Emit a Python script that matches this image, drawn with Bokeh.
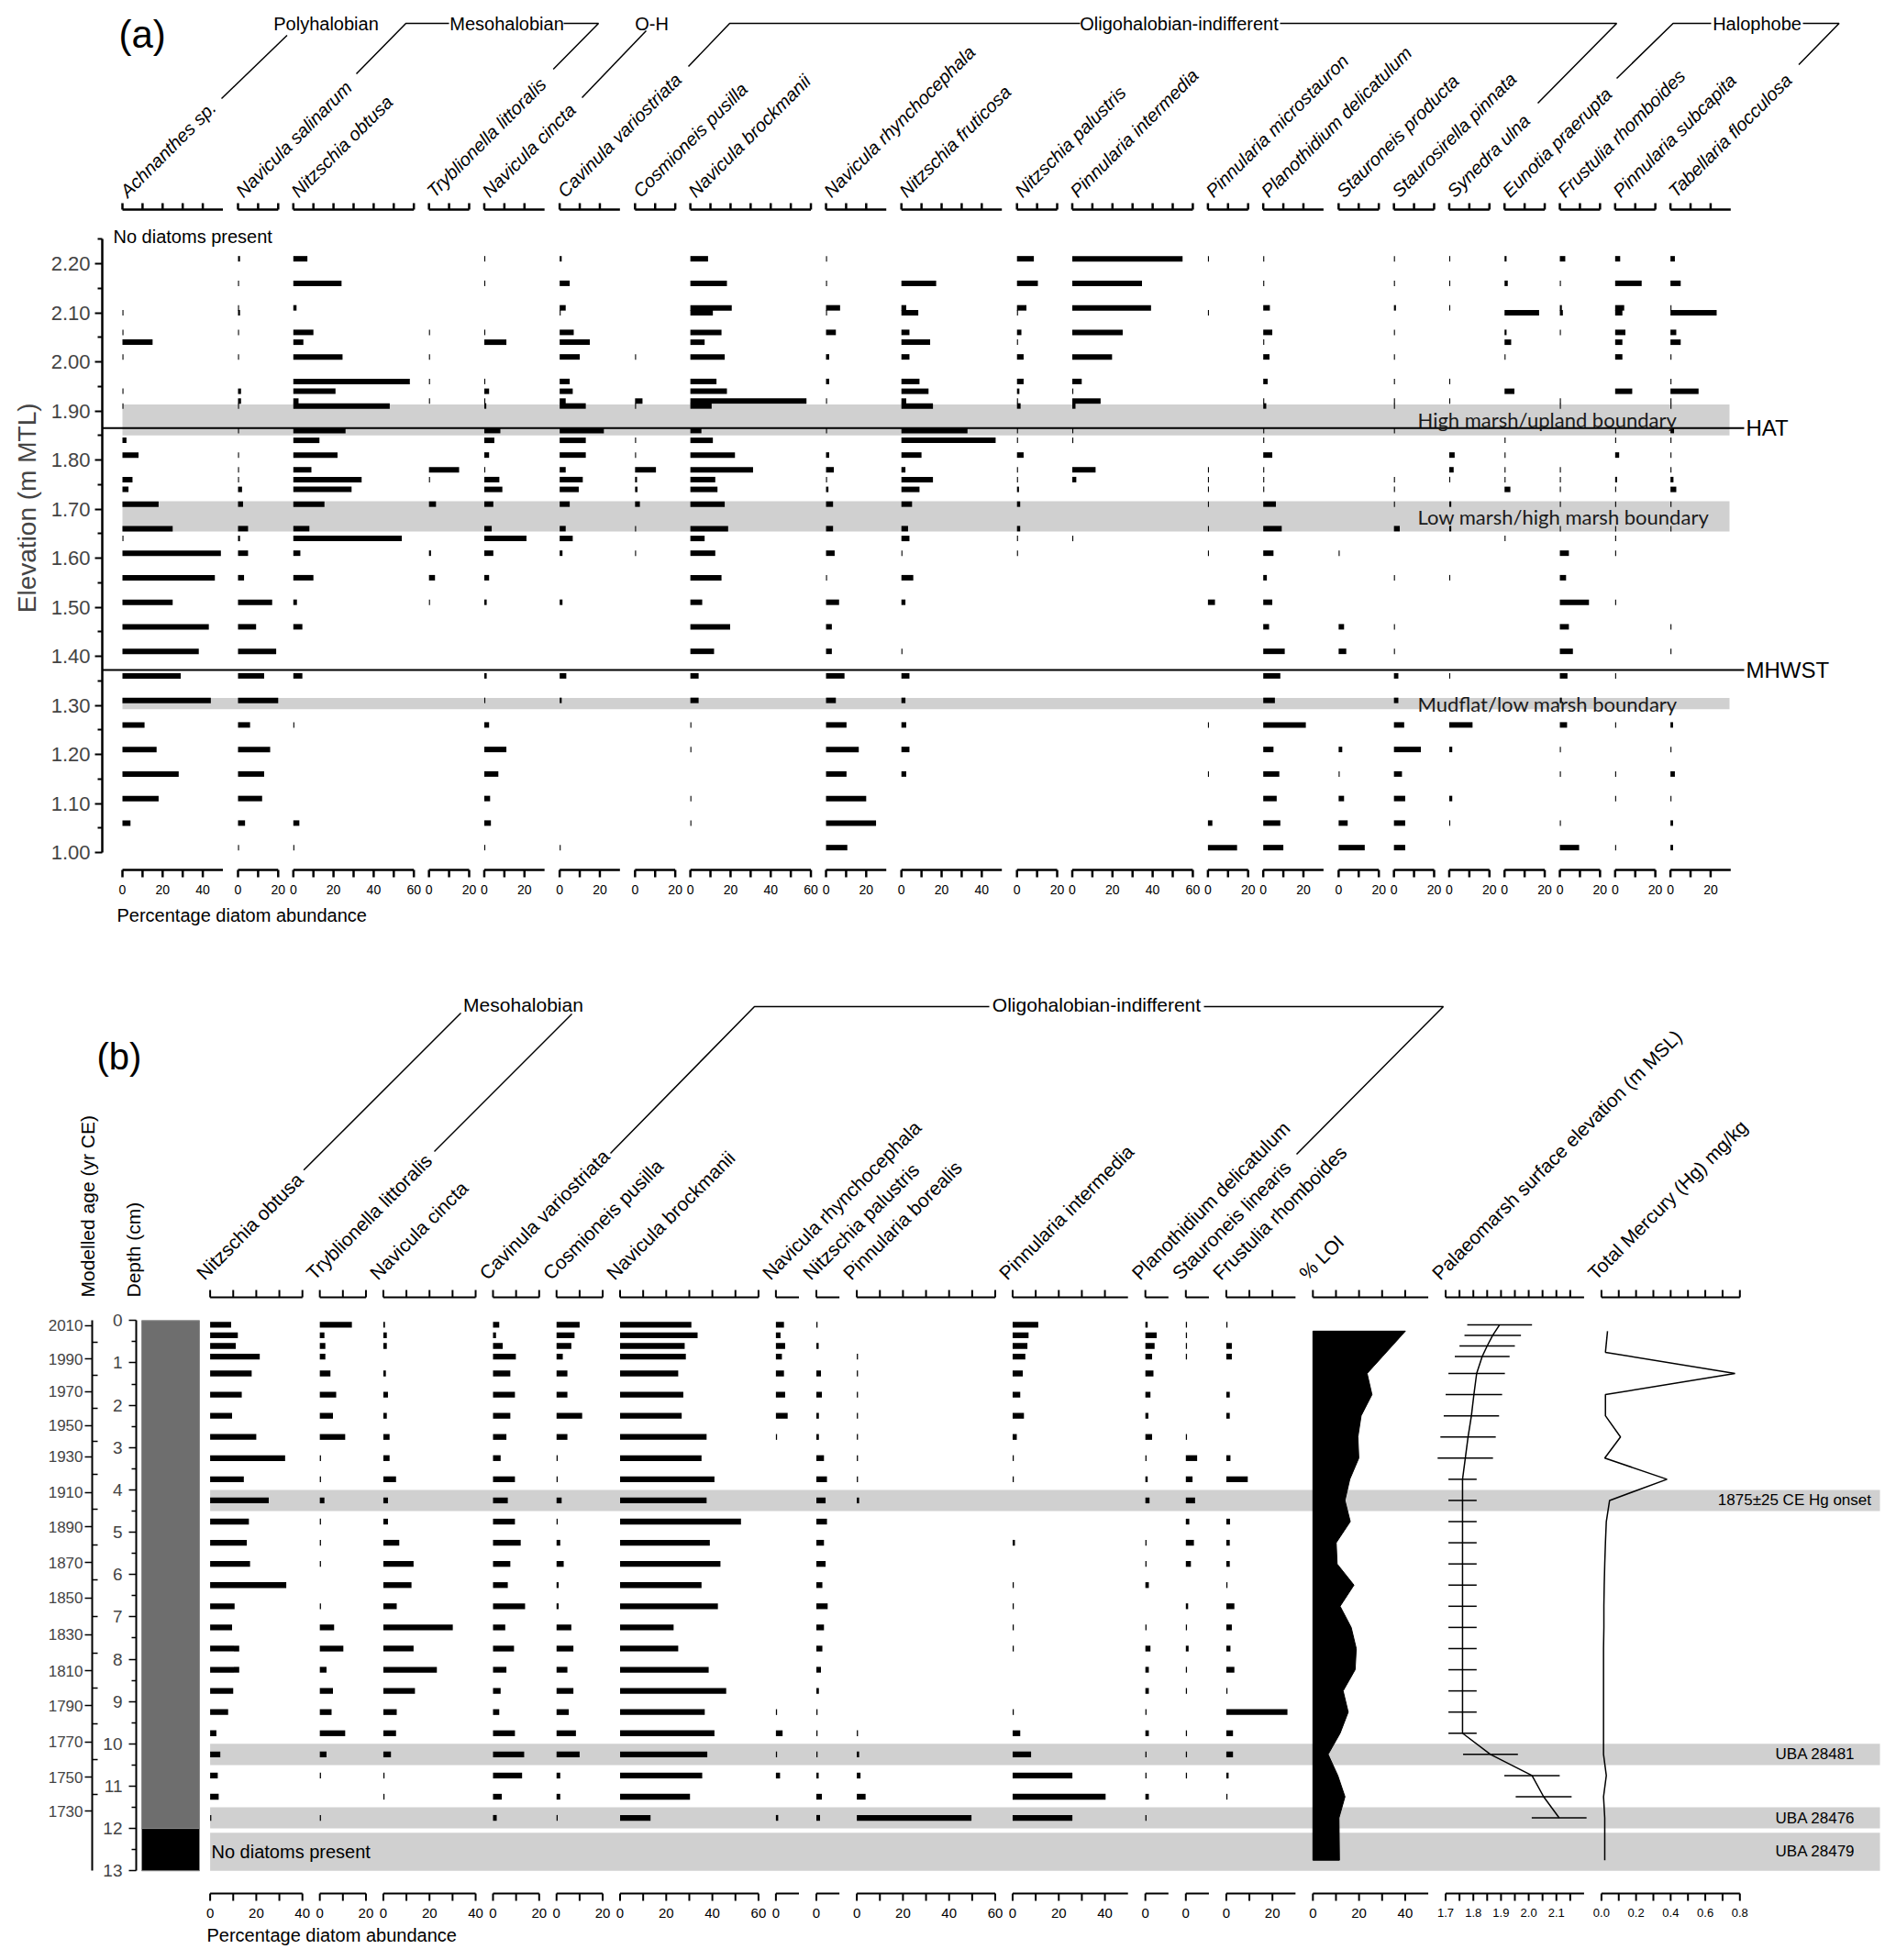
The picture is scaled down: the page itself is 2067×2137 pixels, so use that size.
import math
from bokeh.plotting import figure
from bokeh.models import (Range1d, LinearAxis, FixedTicker, ColumnDataSource,
                          NumeralTickFormatter)
from bokeh.core.properties import value
from bokeh.embed import file_html
from bokeh.resources import INLINE

FONT = "Liberation Sans"

# ======================= Panel (a) data =======================
elev_a = [2.21, 2.16, 2.11, 2.10, 2.06, 2.04, 2.01, 1.96, 1.94, 1.92, 1.91,
          1.86, 1.84, 1.81, 1.78, 1.76, 1.74, 1.71, 1.66, 1.64, 1.61, 1.56,
          1.51, 1.46, 1.41, 1.36, 1.31, 1.26, 1.21, 1.16, 1.11, 1.06, 1.01]

taxa_a = ["Achnanthes sp.", "Navicula salinarum", "Nitzschia obtusa",
          "Tryblionella littoralis", "Navicula cincta", "Cavinula variostriata",
          "Cosmioneis pusilla", "Navicula brockmanii", "Navicula rhynchocephala",
          "Nitzschia fruticosa", "Nitzschia palustris", "Pinnularia intermedia",
          "Pinnularia microstauron", "Planothidium delicatulum", "Stauroneis producta",
          "Staurosirella pinnata", "Synedra ulna", "Eunotia praerupta",
          "Frustulia rhomboides", "Pinnularia subcapita", "Tabellaria flocculosa"]
axis_max_a = [50, 20, 60, 20, 30, 30, 20, 60, 30, 50, 20, 60, 20, 30, 20, 20, 20, 20, 20, 20, 30]

achnanthes_a = [0, 0, 0, 0.5, 0.5, 15, 0.5, 0, 0.5, 0, 0.5, 0, 2, 8, 0, 5, 3, 18, 25, 0.5, 49, 46, 25, 43, 38, 29, 44, 11, 17, 28, 18, 4, 0]
salinarum_a = [1, 0.5, 0.5, 1, 0.5, 0, 0.5, 0, 1.5, 1.5, 0.5, 0.5, 0, 0.5, 0.5, 0.5, 2, 2.5, 5, 1, 5, 3, 17, 9, 19, 13, 20, 6, 16, 13, 12, 3.5, 0.5]
obtusa_a = [7, 24, 1.6, 0, 10, 5, 24.5, 58, 21, 2.6, 48, 26, 13, 22, 9, 34, 29, 15.5, 8, 54, 3.5, 10, 1.8, 4.5, 0, 4.5, 0, 0.5, 0, 0, 0, 3, 0.5]
tryblionella_a = [0, 0, 0, 0, 0.5, 0, 0.5, 0.5, 0, 0.5, 0, 0, 0, 0, 15, 0.5, 0, 3.5, 0, 0, 1, 3, 0.5, 0, 0, 0, 0, 0, 0, 0, 0, 0, 0]
cincta_a = [0.5, 0.5, 0, 0, 0.5, 11, 0, 0.5, 2.4, 0.5, 1, 8, 5, 2.4, 0.5, 7.5, 9, 4.5, 3.7, 21, 4.5, 2.4, 1.2, 0, 0, 1.2, 0.5, 2.4, 11, 7, 2.9, 3.3, 0.5]
cavinula_a = [1, 5, 3, 0.5, 7, 15, 10, 5, 6.5, 3, 13, 22, 13, 13, 3, 11.5, 9.5, 5, 3, 6.5, 1.4, 0, 1.4, 0, 0, 3.3, 1, 0, 0, 0, 0, 0, 0.5]
cosmioneis_a = [0, 0, 0, 0, 0, 0, 0.5, 0, 0, 3.7, 0.5, 0, 0.5, 0.5, 10.4, 1, 1.2, 2.4, 0.5, 0, 0.5, 0, 0, 0, 0, 0, 0, 0, 0, 0, 0, 0, 0]
brockmanii_a = [8.8, 18.2, 20.6, 11.2, 15.5, 7.1, 17.1, 13, 18.2, 57.8, 10.6, 5.5, 11.2, 22.2, 31.2, 12.4, 13.5, 17.1, 18.8, 7.1, 12.4, 15.5, 5.9, 19.8, 11.8, 4.1, 4.1, 0.5, 0.5, 0, 0.5, 0.5, 0]
rhynchocephala_a = [0.5, 0.5, 7, 0.5, 4.9, 0, 1.6, 1.6, 0, 0.5, 0, 0.5, 0, 1.6, 3.9, 0.5, 1.2, 3.5, 3.5, 0, 4.3, 0.5, 6.5, 2.9, 2.9, 9.2, 4.9, 10.2, 16.3, 10.2, 20, 24.9, 10.6]
fruticosa_a = [0, 17.3, 2.4, 8.4, 4, 14.3, 4, 9, 13.5, 2.4, 15.7, 32.9, 46.9, 10, 2, 15.7, 9, 5.3, 3.3, 4, 0.5, 5.9, 2, 0, 0.5, 4, 2, 2.4, 4, 2.4, 0, 0, 0]
palustris_a = [8.4, 10.4, 4.7, 0.5, 2.2, 0.5, 3.3, 3.3, 1.2, 0.5, 1.8, 0.5, 0.5, 3.3, 0.5, 0.5, 1, 1.6, 1.6, 0.5, 0.5, 0, 0, 0, 0, 0, 0, 0, 0, 0, 0, 0, 0]
intermedia_a = [54.9, 34.7, 39.2, 0, 25.1, 0, 19.8, 4.7, 0.5, 14.1, 1.6, 0.5, 0.5, 0, 11.6, 2, 0, 0, 0, 0.5, 0, 0, 0, 0, 0, 0, 0, 0, 0, 0, 0, 0, 0]
microstauron_a = [0.5, 0, 0, 0.5, 0, 0, 0, 0, 0, 0, 0, 0, 0, 0, 0.5, 0.5, 0.5, 0.5, 0.5, 0, 0.5, 0, 3.5, 0, 0, 0, 0, 0.5, 0, 0.5, 0, 2.2, 14.5]
planothidium_a = [0.5, 0.5, 3.3, 0, 4.5, 0.5, 3.1, 2.2, 0, 0.5, 1.5, 0.5, 0.5, 4.5, 0.5, 0.5, 0.5, 6.3, 9.2, 0, 5.1, 1.8, 4.5, 2.9, 10.7, 8.5, 5.8, 21.2, 5.1, 8, 6.7, 8.5, 10]
stauroneis_a = [0, 0, 0, 0, 0, 0, 0, 0, 0, 0, 0, 0, 0, 0, 0, 0, 0, 0, 0, 0, 0.5, 0, 0, 2.7, 3.8, 0, 0, 0, 1.8, 0.5, 2.7, 4.5, 13]
staurosirella_a = [0.5, 0.5, 1, 0, 0.5, 0, 0.5, 0.5, 0, 0.5, 0.5, 0.5, 0, 0, 0, 0.5, 0.5, 0.5, 2.9, 0, 0, 0.5, 0, 0.5, 0.5, 2.2, 2.2, 5.1, 13.4, 4, 5.6, 5.6, 5.6]
synedra_a = [0.5, 0.5, 0.5, 0, 0, 0, 0, 0.5, 0, 0.5, 0, 0, 0, 2.7, 2.2, 0.5, 0, 1, 1, 0, 0, 0.5, 0, 0, 0, 0.5, 0, 11.6, 1.5, 0, 1.5, 0.5, 0]
eunotia_a = [1, 1.6, 0, 17.2, 1, 3.3, 0.5, 0, 4.9, 0, 0, 0, 0.5, 0.5, 0.5, 0.5, 2.9, 0, 0, 0.5, 0, 0, 0, 0, 0, 0, 0, 0, 0, 0, 0, 0, 0]
frustulia_a = [2.7, 0.5, 1, 1.5, 0.5, 0, 0, 0, 0, 0.5, 0.5, 0, 0, 0, 0.5, 0.5, 0.5, 0.5, 0.5, 0, 4.5, 3.1, 14.5, 4.5, 6.5, 3.8, 1, 3.6, 0.5, 0.5, 0, 0.5, 9.6]
subcapita_a = [2.5, 13.2, 4.5, 3.6, 5.1, 3.6, 3.6, 0, 8.5, 0, 0, 0.5, 0.5, 2, 0, 1, 0.5, 0.5, 0.5, 0.5, 0.5, 0, 0.5, 0, 0, 0.5, 0, 0.5, 0, 0.5, 0.5, 0, 0.5]
tabellaria_a = [2.2, 5.1, 0.5, 23, 2.9, 5.1, 0.5, 0.5, 14, 0.5, 0.5, 1.8, 0.5, 0.5, 0.5, 1.5, 2.9, 0.5, 0.5, 0, 0, 0, 0, 0.5, 0.5, 0, 0, 1.3, 0.5, 2.2, 0.5, 1.3, 1.3]

values_a = [achnanthes_a, salinarum_a, obtusa_a, tryblionella_a, cincta_a, cavinula_a,
            cosmioneis_a, brockmanii_a, rhynchocephala_a, fruticosa_a, palustris_a,
            intermedia_a, microstauron_a, planothidium_a, stauroneis_a, staurosirella_a,
            synedra_a, eunotia_a, frustulia_a, subcapita_a, tabellaria_a]

groups_a = ["Polyhalobian", "Mesohalobian", "O-H", "Oligohalobian-indifferent", "Halophobe"]
zones_a = ["High marsh/upland boundary", "Low marsh/high marsh boundary", "Mudflat/low marsh boundary"]
zone_low_a = [1.850, 1.654, 1.292]
zone_high_a = [1.913, 1.716, 1.315]
tide_names = ["HAT", "MHWST"]
tide_levels = [1.865, 1.372]
elev_ticks = [1.0, 1.1, 1.2, 1.3, 1.4, 1.5, 1.6, 1.7, 1.8, 1.9, 2.0, 2.1, 2.2]

# ======================= Panel (b) data =======================
depth_b = [0.1, 0.35, 0.6, 0.85, 1.25, 1.75, 2.25, 2.75, 3.25, 3.75, 4.25, 4.75, 5.25,
           5.75, 6.25, 6.75, 7.25, 7.75, 8.25, 8.75, 9.25, 9.75, 10.25, 10.75, 11.25, 11.75]
taxa_b = ["Nitzschia obtusa", "Tryblionella littoralis", "Navicula cincta",
          "Cavinula variostriata", "Cosmioneis pusilla", "Navicula brockmanii",
          "Navicula rhynchocephala", "Nitzschia palustris", "Pinnularia borealis",
          "Pinnularia intermedia", "Planothidium delicatulum", "Stauroneis linearis",
          "Frustulia rhomboides"]
axis_max_b = [40, 20, 40, 20, 20, 60, 10, 10, 60, 50, 10, 10, 30]

obtusa_b = [9.1, 12, 11.1, 21.5, 18, 13.7, 9.5, 20, 32.5, 14.6, 25.4, 16.8, 15.9, 17.3, 33, 10.6, 9.5, 12.6, 12.6, 10, 7.8, 2.7, 4.4, 3.3, 3.7, 0.5]
tryblionella_b = [13.9, 2, 2.4, 2.4, 4.6, 7.1, 5.7, 11, 0.5, 0.5, 2, 0.5, 0.5, 0.5, 0, 0.5, 6.2, 10.2, 2.9, 5.7, 5.1, 11, 2.9, 0.5, 0, 0.5]
cincta_b = [0.7, 1.5, 1.5, 0, 1.1, 2, 1.5, 2.7, 2.7, 5.5, 2, 2, 6.9, 13.1, 12.2, 5.8, 30.1, 13.1, 23.2, 13.7, 5.8, 5.5, 3.3, 0.5, 0.5, 0]
cavinula_b = [2.7, 1.3, 4.2, 9.9, 7.5, 9.5, 7.5, 5.8, 3.3, 9.5, 6.4, 9.5, 12, 7.5, 6.4, 13.9, 5.3, 9.1, 5.8, 3.3, 2.7, 9.5, 13.5, 12.6, 3.8, 1.6]
cosmioneis_b = [10, 7.8, 6.4, 2.7, 4.7, 4.7, 11.1, 4.7, 0.5, 0.5, 2.2, 0.5, 1.6, 3.1, 0.9, 0.9, 6.4, 7.3, 4.7, 7.3, 5.3, 8.4, 10, 1.6, 1.6, 0.5]
brockmanii_b = [30.9, 33.6, 28, 28.5, 25.2, 27.4, 26.7, 37.5, 35.3, 40.9, 37.5, 52.4, 38.9, 43.5, 35.3, 42.4, 23.2, 25.2, 38.4, 46, 36.7, 40.9, 37.8, 35.6, 30.3, 13.2]
rhynchocephala_b = [3.5, 2, 4, 2.6, 3.5, 4, 5.1, 0.5, 0, 0, 0, 0, 0, 0, 0, 0, 0, 0, 0, 0, 0.5, 2.9, 0.5, 1.8, 0, 1]
palustris_b = [0.5, 0, 1, 0, 2, 2.4, 1.1, 1.1, 3.3, 4.6, 4, 4.6, 3.3, 4, 2.6, 4.9, 3.3, 2.6, 2, 1.1, 0.5, 0.5, 0.5, 1, 2.4, 1.6]
borealis_b = [0, 0, 0, 0.5, 0.5, 0.5, 0.5, 0.5, 0.5, 0.5, 1, 0, 0, 0, 0, 0, 0, 0, 0, 0, 0, 0.5, 1, 1.6, 3.8, 49.7]
intermedia_b = [11.1, 6.9, 6.4, 5.5, 4.4, 3.3, 4.9, 1.8, 0.5, 0.5, 0, 0, 1, 0, 0.5, 0.5, 0.5, 0.5, 0, 0, 0.5, 3.3, 8, 25.9, 40.3, 25.9]
planothidium_b = [1, 4.9, 4, 2.9, 3.5, 2.2, 1.3, 2.9, 0.5, 1, 1.8, 0, 0.5, 0.5, 1.5, 0, 0.5, 2.2, 1.5, 1.5, 0.5, 1.5, 0.5, 0.5, 1.5, 0.5]
stauroneis_b = [0.5, 0.5, 0.5, 0.5, 0, 0, 0, 0.5, 4.9, 2.9, 4, 1.5, 3.5, 2.2, 0, 1, 0.5, 1.2, 0.5, 0.5, 0, 0.5, 0.5, 0.5, 0, 0]
frustulia_b = [0.5, 0, 2.4, 2.4, 0, 1.5, 1.5, 0, 1.8, 9.3, 0, 1.6, 1.5, 1.5, 0.5, 3.5, 2.4, 1.8, 3.5, 0.5, 26.5, 2.9, 2.9, 1, 0.5, 0]

values_b = [obtusa_b, tryblionella_b, cincta_b, cavinula_b, cosmioneis_b, brockmanii_b,
            rhynchocephala_b, palustris_b, borealis_b, intermedia_b, planothidium_b,
            stauroneis_b, frustulia_b]

loi_depth = [0.25, 1.25, 1.75, 2.25, 2.75, 3.25, 3.75, 4.25, 4.75, 5.25, 5.75, 6.25,
             6.75, 7.25, 7.75, 8.25, 8.75, 9.25, 9.75, 10.25, 10.75, 11.25, 11.75, 12.75]
loi_pct = [40.1, 23.5, 25.6, 20.9, 19.5, 19.9, 16, 13.9, 16.2, 10.1, 10.5, 17.8,
           11.8, 16.6, 18.8, 18.3, 13.1, 15.3, 11.8, 6.6, 10.8, 13.9, 11.3, 11.5]

palaeo_elev = [1.895, 1.87, 1.85, 1.832, 1.812, 1.802, 1.793, 1.781, 1.771,
               1.761, 1.761, 1.761, 1.761, 1.761, 1.761, 1.761, 1.761, 1.761, 1.761, 1.761, 1.761, 1.761,
               1.862, 2.012, 2.054, 2.11]
palaeo_err = [0.117, 0.102, 0.10, 0.099, 0.102, 0.102, 0.10, 0.10, 0.10,
              0.051, 0.051, 0.051, 0.051, 0.051, 0.051, 0.051, 0.051, 0.051, 0.051, 0.051, 0.051, 0.051,
              0.099, 0.10, 0.101, 0.099]

hg_depth = [0.25, 0.75, 1.25, 1.75, 2.25, 2.75, 3.25, 3.75, 4.25, 4.75, 5.25, 5.75, 6.25,
            6.75, 7.25, 7.75, 8.25, 8.75, 9.25, 9.75, 10.25, 10.75, 11.25, 11.75, 12.75]
hg_mgkg = [0.035, 0.023, 0.772, 0.023, 0.023, 0.11, 0.019, 0.379, 0.047, 0.028, 0.023, 0.019, 0.016,
           0.014, 0.014, 0.012, 0.012, 0.012, 0.012, 0.012, 0.012, 0.028, 0.012, 0.019, 0.019]

age_years = [2010, 1990, 1970, 1950, 1930, 1910, 1890, 1870, 1850, 1830, 1810, 1790, 1770, 1750, 1730]
age_depths = [0.115, 0.91, 1.68, 2.48, 3.22, 4.06, 4.87, 5.72, 6.55, 7.42, 8.28, 9.10, 9.96, 10.79, 11.59]

litho_top = [0, 12]
litho_bottom = [12, 13]
litho_color = ["#6e6e6e", "#000000"]

zone_top_b = [4.0, 10.0, 11.5, 12.1]
zone_bottom_b = [4.5, 10.5, 12.0, 13.0]
zone_text_b = ["1875\u00b125 CE Hg onset", "UBA 28481", "UBA 28476", "UBA 28479"]
groups_b = ["Mesohalobian", "Oligohalobian-indifferent"]

# ======================= geometry helpers =======================
W = 2060
HA = 1060          # panel (a): page y 0 .. 1060
HBH_TOP, HBH = 1060, 360   # panel (b) header: 1060 .. 1420
HB_TOP, HB = 1420, 710     # panel (b) data: 1420 .. 2130


def ax(px):
    return (px - 133.0) / 2.19


def ay(py):
    return 2.20 - (py - 287.0) / 535.0


def bx(px):
    return (px - 228.6) / 2.515


def by(py):
    return (py - 1439.3) / 46.15


def pxb(u):
    return 228.6 + 2.515 * u


def hx(px):
    return px


def hy(py):
    return -py


def offsets(widths, gap):
    out, acc = [], 0.0
    for w in widths:
        out.append(acc)
        acc += w + gap
    return out


def tick_vals(w):
    top = (w // 20) * 20
    return list(range(0, top + 1, 10))


def label_vals(w):
    top = (w // 20) * 20
    return list(range(0, top + 1, 20))


def base_fig(h, xr, yr, left, yaxis=True):
    p = figure(width=W, height=h, x_range=xr, y_range=yr, toolbar_location=None,
               output_backend="svg", min_border_left=left, min_border_right=0,
               min_border_top=0, min_border_bottom=0, x_axis_location=None,
               y_axis_location="left" if yaxis else None, outline_line_color=None,
               background_fill_color="white", border_fill_color="white")
    p.xgrid.visible = False
    p.ygrid.visible = False
    return p


def txt(p, xs, ys, texts, size, align="left", baseline="middle", angle=0.0,
        style="normal", font=FONT, color="black"):
    src = ColumnDataSource(dict(x=list(xs), y=list(ys), text=list(texts)))
    p.text(x="x", y="y", text="text", source=src, angle=angle,
           text_font=value(font), text_font_size=value(size), text_font_style=style,
           text_align=align, text_baseline=baseline, text_color=color)


def lines(p, polylines, to_x, to_y, width=1.5):
    xs = [[to_x(a) for a, b in pl] for pl in polylines]
    ys = [[to_y(b) for a, b in pl] for pl in polylines]
    p.multi_line(xs=xs, ys=ys, line_color="black", line_width=width)


def mini_axes(p, offs, tick_lists, lengths, y_line, y_tick, lw):
    x0, x1, y0, y1 = [], [], [], []
    for o, ticks, L in zip(offs, tick_lists, lengths):
        x0.append(o); x1.append(o + L); y0.append(y_line); y1.append(y_line)
        for t in ticks:
            x0.append(o + t); x1.append(o + t); y0.append(y_line); y1.append(y_tick)
    p.segment(x0=x0, y0=y0, x1=x1, y1=y1, line_color="black", line_width=lw)


# ======================= Panel (a) =======================
pa = base_fig(HA, Range1d(ax(111), ax(W)), Range1d(ay(HA), ay(0)), 111)
yax = pa.yaxis[0]
yax.ticker = FixedTicker(ticks=elev_ticks,
                         minor_ticks=[round(t + 0.05, 2) for t in elev_ticks[:-1]] + [2.25])
yax.bounds = (1.0, 2.25)
yax.formatter = NumeralTickFormatter(format="0.00")
yax.major_label_text_font = FONT
yax.major_label_text_font_size = "22px"
yax.major_label_standoff = 5
yax.major_tick_out = 8
yax.major_tick_in = 0
yax.minor_tick_out = 5
yax.minor_tick_in = 0
yax.axis_line_width = 2.5
yax.major_tick_line_width = 2
yax.minor_tick_line_width = 2
# the axis title is centred on the frame; trailing no-break spaces move it down to the reference spot
yax.axis_label = "Elevation (m MTL)" + "\u00a0" * 6
yax.axis_label_text_font = FONT
yax.axis_label_text_font_size = "28px"
yax.axis_label_text_font_style = "normal"
yax.axis_label_standoff = 8

off_a = offsets(axis_max_a, 7.53)

pa.quad(left=0, right=ax(1885), bottom=zone_low_a, top=zone_high_a,
        fill_color="#d0d0d0", line_color=None)

bl, br, bc = [], [], []
for o, vals in zip(off_a, values_a):
    for e, v in zip(elev_a, vals):
        if v > 0:
            bl.append(o); br.append(o + v); bc.append(e)
pa.hbar(y=bc, left=bl, right=br, height=6.0 / 535.0, fill_color="black", line_color=None)

pa.segment(x0=ax(111), x1=ax(1901), y0=tide_levels, y1=tide_levels, line_color="black", line_width=2)
txt(pa, [ax(1903)] * 2, tide_levels, tide_names, "24px")

txt(pa, [ax(1545)] * 3, [(a + b) / 2 for a, b in zip(zone_low_a, zone_high_a)], zones_a,
    "22px", font="Lato", color="#1a1a1a")

ticks_a = [tick_vals(w) for w in axis_max_a]
mini_axes(pa, off_a, ticks_a, axis_max_a, ay(228), ay(221), 2.5)
mini_axes(pa, off_a, ticks_a, axis_max_a, ay(948), ay(956), 2.5)
lx, ly, lt = [], [], []
for o, w in zip(off_a, axis_max_a):
    for t in label_vals(w):
        lx.append(o + t); ly.append(ay(969)); lt.append(str(t))
txt(pa, lx, ly, lt, "14px", align="center")

txt(pa, [o + 0.5 for o in off_a], [ay(211)] * len(off_a), taxa_a, "20px",
    baseline="alphabetic", angle=math.pi / 4, style="italic")

txt(pa, [ax(355), ax(552), ax(710), ax(1285), ax(1915)], [ay(25)] * 5, groups_a, "20px", align="center")
lines(pa, [[(241, 107), (312.5, 38)],
           [(388, 80), (442, 25), (489, 25)],
           [(614, 25), (652, 25), (602.7, 75)],
           [(634, 106), (704, 33)],
           [(750, 72), (795, 25), (1177, 25)],
           [(1395, 25), (1762, 25), (1676, 112)],
           [(1762, 85), (1823.5, 25), (1865, 25)],
           [(1965, 25), (2004.5, 25), (1960.5, 70)]], ax, ay)

txt(pa, [ax(129)], [ay(37)], ["(a)"], "42px")
txt(pa, [ax(123)], [ay(257)], ["No diatoms present"], "20px")
txt(pa, [ax(127)], [ay(997)], ["Percentage diatom abundance"], "20px")

# ======================= Panel (b) column layout (units) =======================
widths_b = axis_max_b + [50, 60, 60]
off_b = offsets(widths_b, 7.54)
off_loi, off_pal, off_hg = off_b[13], off_b[14], off_b[15]
PAL_K = 120.0
HG_K = 75.0
ticks_b = [tick_vals(w) for w in widths_b[:14]]
pal_ticks = [round(1.7 + 0.05 * i, 2) for i in range(10)]
ticks_b.append([(t - 1.7) * PAL_K for t in pal_ticks])
ticks_b.append([i * 0.1 * HG_K for i in range(9)])
titles_b = taxa_b + ["% LOI", "Palaeomarsh surface elevation (m MSL)", "Total Mercury (Hg) mg/kg"]

# ======================= Panel (b) header =======================
ph = base_fig(HBH, Range1d(0, W), Range1d(hy(HBH_TOP + HBH), hy(HBH_TOP)), 0, yaxis=False)
txt(ph, [pxb(o) - 11.3 for o in off_b], [hy(1391)] * len(off_b), titles_b, "21px",
    baseline="alphabetic", angle=math.pi / 4)
mini_axes(ph, [pxb(o) for o in off_b], [[2.515 * t for t in tl] for tl in ticks_b],
          [2.515 * w for w in widths_b], hy(1414), hy(1406), 2)
txt(ph, [570, 1195], [hy(1095)] * 2, groups_b, "21px", align="center")
lines(ph, [[(502, 1104), (330.6, 1275.3)],
           [(623, 1105), (473, 1255)],
           [(665, 1257), (822, 1097), (1078, 1097)],
           [(1312, 1097), (1573, 1097), (1413, 1258)]], hx, hy)
txt(ph, [105], [hy(1151)], ["(b)"], "40px")
txt(ph, [95, 145], [hy(1414)] * 2, ["Modelled age (yr CE)", "Depth (cm)"], "21px",
    baseline="alphabetic", angle=math.pi / 2)

# ======================= Panel (b) data =======================
pb = base_fig(HB, Range1d(bx(148), bx(W)), Range1d(by(HB_TOP + HB), by(HB_TOP)), 148)
dax = pb.yaxis[0]
dax.ticker = FixedTicker(ticks=list(range(0, 14)), minor_ticks=[i + 0.5 for i in range(13)])
dax.bounds = (0, 13)
dax.major_label_text_font = FONT
dax.major_label_text_font_size = "19px"
dax.major_label_standoff = 7
dax.major_tick_out = 8
dax.major_tick_in = 0
dax.minor_tick_out = 5
dax.minor_tick_in = 0
dax.axis_line_width = 2
dax.major_tick_line_width = 1.5
dax.minor_tick_line_width = 1.5
dax.axis_label = " "
dax.axis_label_text_font_size = "5px"
dax.axis_label_standoff = 0

age_minor = [(a + b) / 2 for a, b in zip(age_depths[:-1], age_depths[1:])]
age_ax = LinearAxis(ticker=FixedTicker(ticks=age_depths, minor_ticks=age_minor),
                    bounds=(0, 13),
                    major_label_overrides={float(d): str(y) for d, y in zip(age_depths, age_years)})
age_ax.major_label_text_font = FONT
age_ax.major_label_text_font_size = "17px"
age_ax.major_label_standoff = 2
age_ax.major_tick_out = 8
age_ax.major_tick_in = 0
age_ax.minor_tick_out = 0
age_ax.minor_tick_in = 6
age_ax.axis_line_width = 2
age_ax.major_tick_line_width = 1.5
age_ax.minor_tick_line_width = 1.5
pb.add_layout(age_ax, "left")

pb.quad(left=0, right=bx(2049), top=zone_top_b, bottom=zone_bottom_b,
        fill_color="#d0d0d0", line_color=None)
pb.quad(left=bx(154), right=bx(217), top=litho_top, bottom=litho_bottom,
        fill_color=litho_color, line_color="#8a8a8a", line_width=1)

cl, cr, cy = [], [], []
for o, vals in zip(off_b, values_b):
    for d, v in zip(depth_b, vals):
        if v > 0:
            cl.append(o); cr.append(o + v); cy.append(d)
pb.hbar(y=cy, left=cl, right=cr, height=6.3 / 46.15, fill_color="black", line_color=None)

pb.patch(x=[off_loi] + [off_loi + v for v in loi_pct] + [off_loi],
         y=[loi_depth[0]] + loi_depth + [loi_depth[-1]],
         fill_color="black", line_color="black", line_width=1)

pal_x = [off_pal + (e - 1.7) * PAL_K for e in palaeo_elev]
pb.line(x=pal_x, y=depth_b, line_color="black", line_width=1.5)
pb.segment(x0=[off_pal + (e - r - 1.7) * PAL_K for e, r in zip(palaeo_elev, palaeo_err)],
           x1=[off_pal + (e + r - 1.7) * PAL_K for e, r in zip(palaeo_elev, palaeo_err)],
           y0=depth_b, y1=depth_b, line_color="black", line_width=1.5)

pb.line(x=[off_hg + v * HG_K for v in hg_mgkg], y=hg_depth, line_color="black", line_width=1.5)

txt(pb, [bx(2039.5), bx(2022), bx(2022), bx(2022)],
    [(a + b) / 2 for a, b in zip(zone_top_b, zone_bottom_b)], zone_text_b, "17px", align="right")
txt(pb, [bx(230)], [12.56], ["No diatoms present"], "20px")

mini_axes(pb, off_b, ticks_b, widths_b, by(2064), by(2072), 2)
lx, ly, lt = [], [], []
for o, w in zip(off_b[:14], widths_b[:14]):
    for t in label_vals(w):
        lx.append(o + t); ly.append(by(2085)); lt.append(str(t))
txt(pb, lx, ly, lt, "15px", align="center")
pal_labels = ["1.7", "1.8", "1.9", "2.0", "2.1"]
hg_labels = ["0.0", "0.2", "0.4", "0.6", "0.8"]
txt(pb, [off_pal + (float(s) - 1.7) * PAL_K for s in pal_labels], [by(2085)] * 5, pal_labels, "13px", align="center")
txt(pb, [off_hg + float(s) * HG_K for s in hg_labels], [by(2085)] * 5, hg_labels, "13px", align="center")
txt(pb, [bx(225)], [by(2109)], ["Percentage diatom abundance"], "20px")

open("out.html", "w").write(file_html([pa, ph, pb], INLINE, title="Diatom diagram"))
